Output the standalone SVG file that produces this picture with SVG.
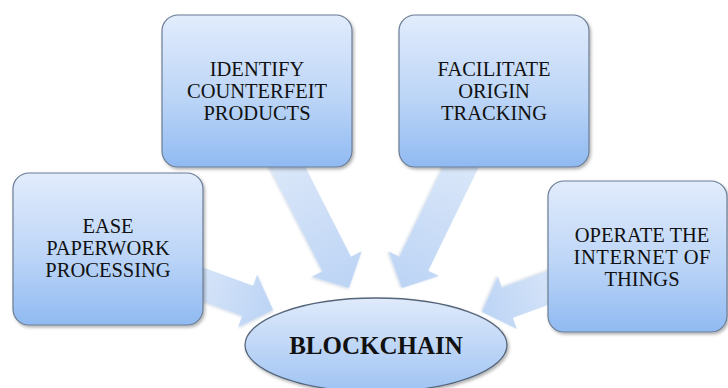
<svg xmlns="http://www.w3.org/2000/svg" width="728" height="388" viewBox="0 0 728 388">
  <defs>
    <linearGradient id="boxGrad" x1="0" y1="0" x2="0" y2="1">
      <stop offset="0" stop-color="#e2ecfc"/>
      <stop offset="0.55" stop-color="#bcd5f7"/>
      <stop offset="1" stop-color="#90baf2"/>
    </linearGradient>
    <linearGradient id="ellGrad" x1="0" y1="0" x2="0" y2="1">
      <stop offset="0" stop-color="#e0ebfb"/>
      <stop offset="1" stop-color="#9fc3f3"/>
    </linearGradient>
    <linearGradient id="arrGrad" x1="0" y1="0" x2="1" y2="0">
      <stop offset="0" stop-color="#dce8f9"/>
      <stop offset="1" stop-color="#bcd4f5"/>
    </linearGradient>
    <filter id="shadow" x="-10%" y="-10%" width="125%" height="125%">
      <feDropShadow dx="1.5" dy="2" stdDeviation="1.5" flood-color="#000" flood-opacity="0.3"/>
    </filter>
    <filter id="ashadow" x="-10%" y="-10%" width="125%" height="125%">
      <feDropShadow dx="1" dy="1.5" stdDeviation="1.2" flood-color="#6a86ad" flood-opacity="0.25"/>
    </filter>
    <polygon id="arrow" points="-150,-16 -27,-16 -27,-28 0,0 -27,28 -27,16 -150,16"/>
  </defs>
  <style>
    .box { fill: url(#boxGrad); stroke: #6b7d94; stroke-width: 1.2; filter: url(#shadow); }
    .ell { fill: url(#ellGrad); stroke: #55657a; stroke-width: 1.3; filter: url(#shadow); }
    .arr { fill: url(#arrGrad); filter: url(#ashadow); }
    .lbl { font-family: "Liberation Serif", "Times New Roman", serif; font-size: 20.5px; fill: #111; text-anchor: middle; }
    .main { font-family: "Liberation Serif", "Times New Roman", serif; font-size: 25px; font-weight: bold; fill: #111; text-anchor: middle; }
  </style>
  <rect width="728" height="388" fill="#ffffff"/>

  <g id="connectors">
    <polygon class="arr" points="-100,-16 -27,-16 -27,-28 0,0 -27,28 -27,16 -100,16" transform="translate(273,310) rotate(20)"/>
    <polygon class="arr" points="-150,-16 -27,-16 -27,-28 0,0 -27,28 -27,16 -150,16" transform="translate(349,288) rotate(63)"/>
    <polygon class="arr" points="-150,-16 -27,-16 -27,-28 0,0 -27,28 -27,16 -150,16" transform="translate(402,288) rotate(116)"/>
    <polygon class="arr" points="-100,-16 -27,-16 -27,-28 0,0 -27,28 -27,16 -100,16" transform="translate(482,312) rotate(160)"/>
  </g>

  <g id="node-ease">
    <rect class="box" x="13" y="173" width="190" height="152" rx="16" ry="16"/>
    <text class="lbl" x="108" y="233">EASE</text>
    <text class="lbl" x="108" y="255">PAPERWORK</text>
    <text class="lbl" x="108" y="277">PROCESSING</text>
  </g>

  <g id="node-identify">
    <rect class="box" x="162" y="15" width="190" height="152" rx="16" ry="16"/>
    <text class="lbl" x="257" y="76">IDENTIFY</text>
    <text class="lbl" x="257" y="98">COUNTERFEIT</text>
    <text class="lbl" x="257" y="120">PRODUCTS</text>
  </g>

  <g id="node-facilitate">
    <rect class="box" x="399" y="15" width="190" height="152" rx="16" ry="16"/>
    <text class="lbl" x="494" y="76">FACILITATE</text>
    <text class="lbl" x="494" y="98">ORIGIN</text>
    <text class="lbl" x="494" y="120">TRACKING</text>
  </g>

  <g id="node-operate">
    <rect class="box" x="548" y="181" width="179" height="151" rx="16" ry="16"/>
    <text class="lbl" x="642" y="242">OPERATE THE</text>
    <text class="lbl" x="642" y="264" textLength="137" lengthAdjust="spacing">INTERNET OF</text>
    <text class="lbl" x="642" y="286">THINGS</text>
  </g>

  <g id="node-blockchain">
    <ellipse class="ell" cx="376" cy="345" rx="131" ry="47"/>
    <text class="main" x="376" y="354">BLOCKCHAIN</text>
  </g>
</svg>
